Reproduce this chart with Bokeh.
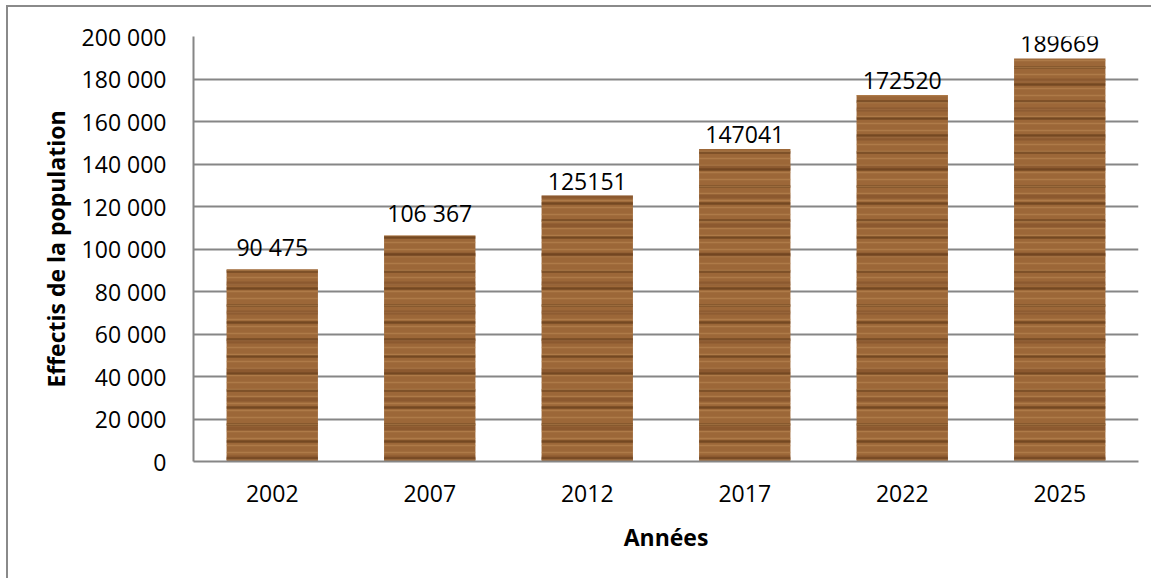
from bokeh.plotting import figure
from bokeh.models import FactorRange, Range1d, FixedTicker, ColumnDataSource
from bokeh.core.properties import value
from bokeh.embed import file_html
from bokeh.resources import INLINE

years = ["2002", "2007", "2012", "2017", "2022", "2025"]
population = [90475, 106367, 125151, 147041, 172520, 189669]
value_labels = ["90 475", "106 367", "125151", "147041", "172520", "189669"]
y_ticks = [0, 20000, 40000, 60000, 80000, 100000, 120000, 140000, 160000, 180000, 200000]
y_tick_labels = ["0", "20 000", "40 000", "60 000", "80 000", "100 000", "120 000",
                 "140 000", "160 000", "180 000", "200 000"]
x_title = "Années"
y_title = "Effectis de la population"

FONT = "Open Sans"
GRID = "#868686"

src = ColumnDataSource(dict(x=years, top=population, lab=value_labels))

p = figure(x_range=FactorRange(*years, range_padding=0), y_range=Range1d(0, 200000),
           width=1145, height=573, output_backend="svg", toolbar_location=None,
           min_border_left=185, min_border_top=29, min_border_right=15, min_border_bottom=119)
p.styles = {"border-left": "2px solid #8a8a8a", "border-top": "2px solid #8a8a8a",
            "margin-left": "6px", "margin-top": "5px"}
p.outline_line_color = None
p.background_fill_color = "white"
p.border_fill_color = "white"

# wood-like bars
p.vbar(x="x", top="top", width=0.58, source=src, fill_color="#9c6738", line_color=None,
       hatch_pattern="horizontal_line", hatch_color="#5a3314", hatch_alpha=0.6,
       hatch_scale=17, hatch_weight=2.5)
p.vbar(x="x", top="top", width=0.58, source=src, fill_color=None, line_color=None,
       hatch_pattern="horizontal_line", hatch_color="#c08d58", hatch_alpha=0.5,
       hatch_scale=7, hatch_weight=1.5)
p.vbar(x="x", top="top", width=0.58, source=src, fill_color=None, line_color=None,
       hatch_pattern="horizontal_line", hatch_color="#6e4020", hatch_alpha=0.35,
       hatch_scale=29, hatch_weight=4)

p.text(x="x", y="top", text="lab", source=src, text_align="center",
       text_baseline="bottom", y_offset=-6, text_font=value(FONT),
       text_font_size="23px", text_color="black")

p.xgrid.grid_line_color = None
p.ygrid.grid_line_color = GRID
p.ygrid.grid_line_width = 2
p.ygrid.ticker = FixedTicker(ticks=y_ticks)

p.yaxis.ticker = FixedTicker(ticks=y_ticks)
p.yaxis.major_label_overrides = {t: l for t, l in zip(y_ticks, y_tick_labels)}
p.yaxis.minor_tick_line_color = None
p.yaxis.major_tick_out = 9
p.yaxis.major_tick_in = 0
p.yaxis.major_label_standoff = 18
p.yaxis.axis_label = y_title
p.yaxis.axis_label_standoff = 7

p.xaxis.major_tick_out = 0
p.xaxis.major_tick_in = 0
p.xaxis.major_label_standoff = 23
p.xaxis.axis_label = x_title
p.xaxis.axis_label_standoff = 16

for ax in (p.xaxis, p.yaxis):
    ax.axis_line_color = GRID
    ax.axis_line_width = 2
    ax.major_tick_line_color = GRID if ax is p.yaxis else None
    ax.major_tick_line_width = 2
    ax.major_label_text_font = FONT
    ax.major_label_text_font_size = "23px"
    ax.major_label_text_color = "black"
    ax.axis_label_text_font = FONT
    ax.axis_label_text_font_size = "23px"
    ax.axis_label_text_font_style = "bold"
    ax.axis_label_text_color = "black"

open("out.html", "w").write(file_html(p, INLINE))
